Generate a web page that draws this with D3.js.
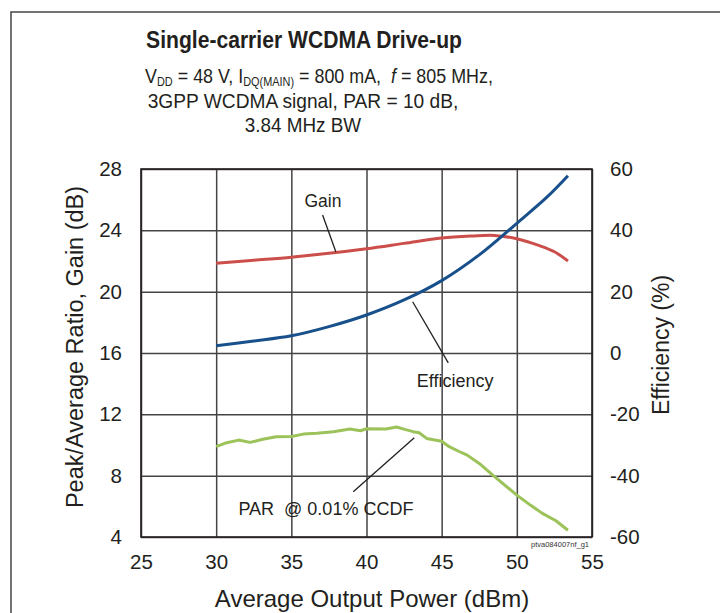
<!DOCTYPE html>
<html>
<head>
<meta charset="utf-8">
<script src="https://cdn.jsdelivr.net/npm/d3@7"></script>
<style>
  body { margin: 0; background: #fff; }
  svg { font-family: "Liberation Sans", Arial, sans-serif; }
</style>
</head>
<body>
<svg id="chart" width="720" height="613"></svg>
<script>
// x ticks / y ticks
const xTicks = [25, 30, 35, 40, 45, 50, 55];
const leftTicks = [4, 8, 12, 16, 20, 24, 28];
const rightTicks = [-60, -40, -20, 0, 20, 40, 60];

// Gain (dB)
const gainX = [30, 32.5, 35, 37.5, 40, 42.5, 45, 47, 48.5, 50, 51.5, 52.5, 53.4];
const gainY = [21.85, 22.05, 22.25, 22.5, 22.8, 23.15, 23.5, 23.63, 23.67, 23.45, 23.0, 22.6, 22.0];

// Efficiency (%)
const effX = [30, 32.5, 35, 37.5, 40, 42.5, 45, 47.5, 50, 52, 53.4];
const effY = [2.4, 3.9, 5.6, 8.6, 12.4, 17.3, 23.6, 32, 42.3, 50.8, 57.8];

// PAR @ 0.01% CCDF (dB)
const parX = [30, 30.7, 31.5, 32.25, 33.1, 34, 35, 35.8, 36.7, 37.8, 38.9, 39.6, 40, 41.3, 42, 42.6, 43.1, 43.5, 44, 45, 45.5, 46.2, 46.7, 47.5, 48.4, 50, 50.9, 51.7, 52.6, 53.4];
const parY = [9.89, 10.15, 10.32, 10.17, 10.37, 10.54, 10.56, 10.71, 10.76, 10.87, 11.04, 10.93, 11.06, 11.04, 11.17, 11.0, 10.87, 10.8, 10.43, 10.25, 9.89, 9.56, 9.34, 8.8, 8.04, 6.73, 6.08, 5.54, 5.06, 4.44];

const ink = '#231f20';

// squeeze a centred text horizontally so it spans w pixels
function fitWidth(sel, cx, w) {
    const bw = sel.node().getBBox().width;
    sel.attr('transform', `translate(${cx},0) scale(${w / bw},1) translate(${-cx},0)`);
}

function drawChart() {
    const svg = d3.select('#chart');
    const margin = {top: 169, right: 128, bottom: 76, left: 141};
    const width = 720 - margin.left - margin.right;
    const height = 613 - margin.top - margin.bottom;

    // outer frame (top + left only)
    svg.append('path')
        .attr('d', 'M11,613V12H720')
        .attr('fill', 'none')
        .attr('stroke', '#444')
        .attr('stroke-width', 1.5);

    // title
    const title = svg.append('text')
        .attr('x', 304).attr('y', 48)
        .attr('text-anchor', 'middle')
        .attr('font-weight', 'bold').attr('font-size', 23.5)
        .attr('fill', ink)
        .text('Single-carrier WCDMA Drive-up');
    fitWidth(title, 304, 316);

    const line2 = svg.append('text')
        .attr('x', 319).attr('y', 83)
        .attr('text-anchor', 'middle')
        .attr('font-size', 20.5)
        .attr('fill', ink);
    line2.append('tspan').text('V');
    line2.append('tspan').attr('font-size', 12.5).attr('dy', 3).text('DD');
    line2.append('tspan').attr('dy', -3).text('\u00a0= 48 V, I');
    line2.append('tspan').attr('font-size', 12.5).attr('dy', 3).text('DQ(MAIN)');
    line2.append('tspan').attr('dy', -3).text('\u00a0= 800 mA,\u00a0\u00a0');
    line2.append('tspan').attr('font-style', 'italic').text('f');
    line2.append('tspan').text('\u00a0= 805 MHz,');
    fitWidth(line2, 319, 348);

    const line3 = svg.append('text')
        .attr('x', 303).attr('y', 108)
        .attr('text-anchor', 'middle').attr('font-size', 20.5).attr('fill', ink)
        .text('3GPP WCDMA signal, PAR = 10 dB,');
    fitWidth(line3, 303, 311);
    const line4 = svg.append('text')
        .attr('x', 303).attr('y', 132)
        .attr('text-anchor', 'middle').attr('font-size', 20.5).attr('fill', ink)
        .text('3.84 MHz BW');
    fitWidth(line4, 303, 117);

    const g = svg.append('g')
        .attr('transform', `translate(${margin.left},${margin.top})`);

    const x = d3.scaleLinear().domain([25, 55]).range([0, width]);
    const yL = d3.scaleLinear().domain([4, 28]).range([height, 0]);
    const yR = d3.scaleLinear().domain([-60, 60]).range([height, 0]);

    // grid
    g.append('g')
        .call(d3.axisBottom(x).tickValues(xTicks).tickSize(height).tickFormat(''))
        .call(a => a.select('.domain').remove())
        .selectAll('line').attr('stroke', '#444').attr('stroke-width', 1.5);
    g.append('g')
        .call(d3.axisLeft(yL).tickValues(leftTicks).tickSize(-width).tickFormat(''))
        .call(a => a.select('.domain').remove())
        .selectAll('line').attr('stroke', '#444').attr('stroke-width', 1.5);

    g.append('rect')
        .attr('width', width).attr('height', height)
        .attr('fill', 'none').attr('stroke', ink).attr('stroke-width', 1.6);

    // tick labels
    const xAxis = g.append('g')
        .attr('transform', `translate(0,${height})`)
        .call(d3.axisBottom(x).tickValues(xTicks).tickSize(0).tickPadding(17).tickFormat(d => String(d)));
    xAxis.select('.domain').remove();
    xAxis.selectAll('text').attr('font-size', 20.5).attr('fill', ink).attr('font-family', null);

    const lAxis = g.append('g')
        .call(d3.axisLeft(yL).tickValues(leftTicks).tickSize(0).tickPadding(19).tickFormat(d => String(d)));
    lAxis.select('.domain').remove();
    lAxis.selectAll('text').attr('font-size', 20.5).attr('fill', ink).attr('font-family', null);

    const rAxis = g.append('g')
        .attr('transform', `translate(${width},0)`)
        .call(d3.axisRight(yR).tickValues(rightTicks).tickSize(0).tickPadding(18).tickFormat(d => String(d)));
    rAxis.select('.domain').remove();
    rAxis.selectAll('text').attr('font-size', 20.5).attr('fill', ink).attr('font-family', null);

    // axis titles
    svg.append('text')
        .attr('x', 372).attr('y', 607)
        .attr('text-anchor', 'middle').attr('font-size', 24).attr('fill', ink)
        .text('Average Output Power (dBm)');
    svg.append('text')
        .attr('transform', 'translate(83,347) rotate(-90)')
        .attr('text-anchor', 'middle').attr('font-size', 23.5).attr('fill', ink)
        .text('Peak/Average Ratio, Gain (dB)');
    svg.append('text')
        .attr('transform', 'translate(669,345) rotate(-90)')
        .attr('text-anchor', 'middle').attr('font-size', 23).attr('fill', ink)
        .text('Efficiency (%)');

    // curves
    const lineL = d3.line().x(d => x(d[0])).y(d => yL(d[1])).curve(d3.curveCatmullRom.alpha(0.5));
    const lineR = d3.line().x(d => x(d[0])).y(d => yR(d[1])).curve(d3.curveCatmullRom.alpha(0.5));
    const linePar = d3.line().x(d => x(d[0])).y(d => yL(d[1])).curve(d3.curveLinear);

    g.append('path')
        .datum(gainX.map((v, i) => [v, gainY[i]]))
        .attr('d', lineL)
        .attr('fill', 'none').attr('stroke', '#cc4e4b').attr('stroke-width', 3);
    g.append('path')
        .datum(effX.map((v, i) => [v, effY[i]]))
        .attr('d', lineR)
        .attr('fill', 'none').attr('stroke', '#17508a').attr('stroke-width', 3);
    g.append('path')
        .datum(parX.map((v, i) => [v, parY[i]]))
        .attr('d', linePar)
        .attr('fill', 'none').attr('stroke', '#9cc25a').attr('stroke-width', 3)
        .attr('stroke-linejoin', 'round');

    // annotations
    const leaders = [
        [[37.08, 25.0], [37.96, 22.6]],
        [[43.07, 19.34], [45.44, 15.36]],
        [[39.12, 6.95], [43.18, 10.48]]
    ];
    leaders.forEach(l => {
        g.append('line')
            .attr('x1', x(l[0][0])).attr('y1', yL(l[0][1]))
            .attr('x2', x(l[1][0])).attr('y2', yL(l[1][1]))
            .attr('stroke', ink).attr('stroke-width', 1.3);
    });
    g.append('text').attr('x', x(37.1)).attr('y', yL(25.55))
        .attr('text-anchor', 'middle').attr('font-size', 17.5).attr('fill', ink).text('Gain');
    g.append('text').attr('x', x(45.9)).attr('y', yL(13.78))
        .attr('text-anchor', 'middle').attr('font-size', 18).attr('fill', ink).text('Efficiency');
    g.append('text').attr('x', x(37.3)).attr('y', yL(5.43))
        .attr('text-anchor', 'middle').attr('font-size', 18).attr('fill', ink).text('PAR\u00a0\u00a0@ 0.01% CCDF');

    g.append('text').attr('x', width - 3).attr('y', height + 10)
        .attr('text-anchor', 'end').attr('font-size', 7.5).attr('fill', '#333')
        .text('ptva084007nf_g1');
}

drawChart();
</script>
</body>
</html>
